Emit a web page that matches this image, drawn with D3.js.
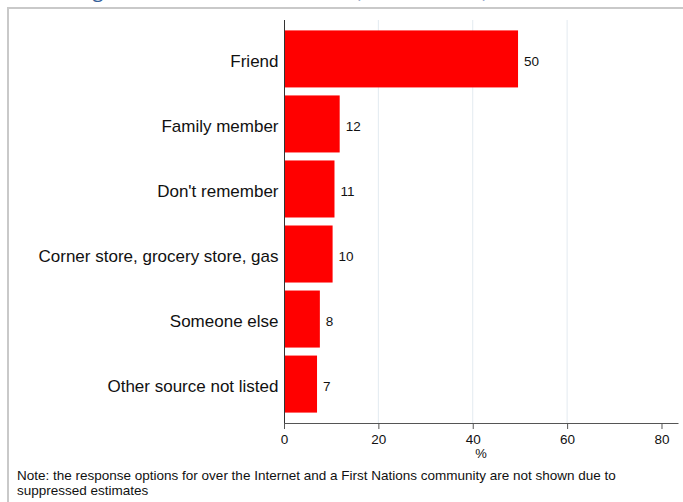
<!DOCTYPE html>
<html>
<head>
<meta charset="utf-8">
<script src="https://cdn.jsdelivr.net/npm/d3@7"></script>
<style>
  html, body { margin: 0; padding: 0; background: #ffffff; }
  svg { display: block; }
</style>
</head>
<body>
<svg id="chart" width="683" height="502"></svg>
<script>
// ---- data ----
const categories = [
  "Friend",
  "Family member",
  "Don't remember",
  "Corner store, grocery store, gas",
  "Someone else",
  "Other source not listed"
];
const values = [49.6, 11.8, 10.7, 10.3, 7.6, 7.0];
const xTicks = [0, 20, 40, 60, 80];
const gridTicks = [20, 40, 60];
const xAxisTitle = "%";
const noteLines = [
  "Note: the response options for over the Internet and a First Nations community are not shown due to",
  "suppressed estimates"
];
const titleText = "Source of cannabis among users, First Nations adults (2017 to 2018)";

// ---- layout ----
const svg = d3.select("#chart");
const plot = { left: 284, right: 678, top: 20, bottom: 423 };

const x = d3.scaleLinear().domain([0, 83.5]).range([plot.left, plot.right]);
const y = d3.scaleBand().domain(categories).range([plot.top, plot.bottom])
  .paddingInner(0.123).paddingOuter(0.16);

// cropped title (only descenders visible, as in the reference)
const title = svg.append("text")
  .attr("y", -3.2)
  .attr("font-family", "'Open Sans', sans-serif")
  .attr("font-size", 20)
  .attr("fill", "#35609a")
  .text(titleText);
{
  const node = title.node();
  const gi = titleText.indexOf("g");
  const pre = node.getSubStringLength(0, gi);
  const gw = node.getSubStringLength(gi, 1);
  title.attr("x", 98 - pre - gw / 2);
}

// frame
svg.append("rect")
  .attr("x", 8).attr("y", 8)
  .attr("width", 720).attr("height", 560)
  .attr("fill", "none")
  .attr("stroke", "#c9c9c9")
  .attr("stroke-width", 2);

// gridlines
svg.append("g").selectAll("line").data(gridTicks).join("line")
  .attr("x1", d => x(d)).attr("x2", d => x(d))
  .attr("y1", plot.top).attr("y2", plot.bottom)
  .attr("stroke", "#e3eaf0").attr("stroke-width", 1);

// bars
svg.append("g").selectAll("rect").data(values).join("rect")
  .attr("x", x(0))
  .attr("y", (d, i) => y(categories[i]))
  .attr("width", d => x(d) - x(0))
  .attr("height", y.bandwidth())
  .attr("fill", "#ff0000");

// value labels
const fmt = d3.format(".0f");
svg.append("g").selectAll("text").data(values).join("text")
  .attr("x", d => x(d) + 6)
  .attr("y", (d, i) => y(categories[i]) + y.bandwidth() / 2)
  .attr("dy", "0.5em")
  .attr("font-family", "'Liberation Sans', Arial, sans-serif")
  .attr("font-size", 13.5)
  .attr("fill", "#111")
  .text(d => fmt(d));

// category labels
svg.append("g").selectAll("text").data(categories).join("text")
  .attr("x", plot.left - 5.5)
  .attr("y", d => y(d) + y.bandwidth() / 2)
  .attr("dy", "0.48em")
  .attr("text-anchor", "end")
  .attr("font-family", "'Liberation Sans', Arial, sans-serif")
  .attr("font-size", 17)
  .attr("fill", "#111")
  .text(d => d);

// y axis line
svg.append("line")
  .attr("x1", plot.left + 0.5).attr("x2", plot.left + 0.5)
  .attr("y1", plot.top).attr("y2", plot.bottom)
  .attr("stroke", "#333").attr("stroke-width", 1);

// x axis
const xAxis = d3.axisBottom(x).tickValues(xTicks).tickSize(6).tickSizeOuter(0).tickFormat(d3.format("d"));
const gx = svg.append("g")
  .attr("transform", `translate(0,${plot.bottom})`)
  .call(xAxis);
gx.select(".domain").attr("stroke", "#555");
gx.selectAll(".tick line").attr("stroke", "#555");
gx.selectAll(".tick text")
  .attr("font-family", "'Liberation Sans', Arial, sans-serif")
  .attr("font-size", 13.5)
  .attr("fill", "#111")
  .attr("y", 11);

svg.append("text")
  .attr("x", (plot.left + plot.right) / 2)
  .attr("y", 458)
  .attr("text-anchor", "middle")
  .attr("font-family", "'Liberation Sans', Arial, sans-serif")
  .attr("font-size", 13)
  .attr("fill", "#111")
  .text(xAxisTitle);

// note
svg.append("g").selectAll("text").data(noteLines).join("text")
  .attr("x", 17)
  .attr("y", (d, i) => 480 + i * 15)
  .attr("font-family", "'Liberation Sans', Arial, sans-serif")
  .attr("font-size", 13.5)
  .attr("fill", "#111")
  .text(d => d);
</script>
</body>
</html>
